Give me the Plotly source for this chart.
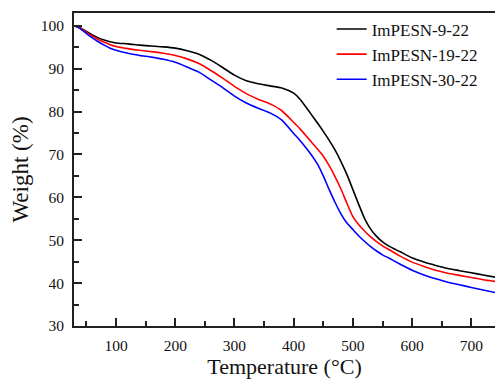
import plotly.graph_objects as go

temps = [30, 40, 50, 60, 70, 80, 90, 100, 120, 140, 160, 180, 200, 220, 240, 260, 280, 300,
         320, 340, 360, 380, 400, 410, 420, 430, 440, 450, 460, 470, 480, 490, 500, 510, 520,
         530, 540, 550, 560, 580, 600, 620, 640, 660, 680, 700, 720, 740]

w_9_22 = [100, 99.5, 98.7, 97.9, 97.2, 96.7, 96.3, 96.0, 95.8, 95.5, 95.3, 95.1, 94.8, 94.2,
          93.4, 92.0, 90.3, 88.5, 87.2, 86.5, 86.0, 85.5, 84.3, 83.0, 81.2, 79.3, 77.4, 75.4,
          73.3, 71.0, 68.3, 65.3, 61.8, 58.3, 55.0, 52.6, 50.9, 49.6, 48.7, 47.3, 45.9, 44.9,
          44.1, 43.4, 42.9, 42.4, 41.9, 41.4]

w_19_22 = [100, 99.4, 98.5, 97.6, 96.8, 96.2, 95.6, 95.2, 94.7, 94.3, 94.0, 93.6, 93.1, 92.3,
           91.2, 89.6, 87.8, 85.9, 84.2, 82.9, 81.8, 80.2, 77.5, 76.1, 74.5, 72.9, 71.3, 69.6,
           67.4, 64.8, 61.9, 58.6, 55.5, 53.6, 52.1, 50.8, 49.7, 48.7, 47.9, 46.3, 44.9, 43.9,
           43.0, 42.3, 41.8, 41.3, 40.8, 40.4]

w_30_22 = [100, 99.3, 98.2, 97.2, 96.3, 95.5, 94.8, 94.3, 93.6, 93.1, 92.7, 92.2, 91.5, 90.4,
           89.2, 87.4, 85.6, 83.6, 82.0, 80.8, 79.7, 78.0, 74.9, 73.4, 71.7, 69.9, 67.8, 65.0,
           61.8, 58.8, 56.1, 54.0, 52.5, 51.0, 49.7, 48.5, 47.5, 46.6, 45.9, 44.4, 43.0, 41.9,
           41.0, 40.2, 39.6, 39.0, 38.4, 37.8]

series_names = ["ImPESN-9-22", "ImPESN-19-22", "ImPESN-30-22"]
series_vals = [w_9_22, w_19_22, w_30_22]
series_colors = ["#000000", "#ff0000", "#0000ff"]

x_ticks = [100, 200, 300, 400, 500, 600, 700]
y_ticks = [30, 40, 50, 60, 70, 80, 90, 100]

FONT = "Liberation Serif"

fig = go.Figure()
for name, vals, col in zip(series_names, series_vals, series_colors):
    fig.add_trace(go.Scatter(x=temps, y=vals, name=name, mode="lines",
                             line=dict(color=col, width=1.6, shape="spline", smoothing=0.6)))

axis_common = dict(
    showline=True, linecolor="#222222", linewidth=2, showgrid=False, zeroline=False,
    ticks="inside", ticklen=8, tickwidth=1.5, tickcolor="#222222",
    tickfont=dict(family=FONT, size=15.5, color="#111111"),
)

fig.update_xaxes(
    range=[29, 740], tickvals=x_ticks, mirror=True,
    minor=dict(ticks="inside", ticklen=5, tickwidth=1.5, tickcolor="#222222", dtick=50, tick0=0),
    title=dict(text="Temperature (°C)", font=dict(family=FONT, size=22, color="#111111"), standoff=6),
    ticklabelstandoff=4,
    **axis_common,
)
fig.update_yaxes(
    range=[30, 103], tickvals=y_ticks, mirror=False,
    minor=dict(ticks="inside", ticklen=5, tickwidth=1.5, tickcolor="#222222", dtick=5, tick0=0),
    title=dict(text="Weight (%)", font=dict(family=FONT, size=23, color="#111111"), standoff=6),
    ticklabelstandoff=5,
    **axis_common,
)

fig.update_layout(
    width=495, height=381,
    margin=dict(l=74, r=0, t=13, b=55),
    paper_bgcolor="white", plot_bgcolor="white",
    font=dict(family=FONT, color="#111111"),
    legend=dict(x=0.612, y=1.005, xanchor="left", yanchor="top",
                bgcolor="rgba(0,0,0,0)", font=dict(family=FONT, size=17, color="#111111"),
                tracegroupgap=0, itemwidth=30),
    showlegend=True,
)

fig.write_html("out.html")
